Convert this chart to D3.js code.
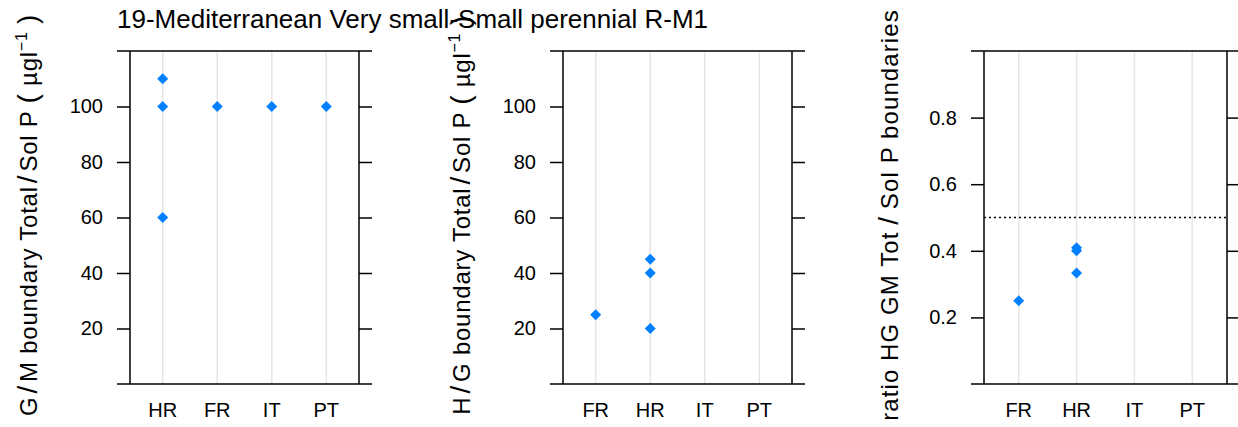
<!DOCTYPE html>
<html>
<head>
<meta charset="utf-8">
<script src="https://cdn.jsdelivr.net/npm/d3@7"></script>
<style>
  html, body { margin: 0; padding: 0; background: #fff; }
  svg { display: block; font-family: "Liberation Sans", Arial, sans-serif; }
</style>
</head>
<body>
<svg id="chart" width="1238" height="427"></svg>
<script>
// ---- data ----
const title = "19-Mediterranean Very small-Small perennial R-M1";

const gmCategories = ["HR", "FR", "IT", "PT"];
const gmCountry = ["HR", "HR", "HR", "FR", "IT", "PT"];
const gmValue = [110, 100, 60, 100, 100, 100];

const hgCategories = ["FR", "HR", "IT", "PT"];
const hgCountry = ["FR", "HR", "HR", "HR"];
const hgValue = [25, 45, 40, 20];

const ratioCategories = ["FR", "HR", "IT", "PT"];
const ratioCountry = ["FR", "HR", "HR", "HR"];
const ratioValue = [0.25, 0.409, 0.40, 0.333];
const ratioReference = 0.5;

const concTicks = [20, 40, 60, 80, 100];
const ratioTicks = [0.2, 0.4, 0.6, 0.8];
const concDomain = [0, 120];
const ratioDomain = [0, 1];

// ---- layout ----
const svg = d3.select("#chart");
const panelTop = 51, panelBottom = 384, tickLen = 13;
const pointColor = "#0080ff";

svg.append("text")
  .attr("x", 117).attr("y", 28)
  .attr("font-size", 26).attr("fill", "#000")
  .text(title);

function diamond(r) {
  return `M0,${-r}L${r},0L0,${r}L${-r},0Z`;
}

function panel(opts) {
  const {x0, x1, cats, countries, values, domain, ticks, fmt, labelParts, labelX, labelSpacing, ref} = opts;
  const g = svg.append("g");
  const x = d3.scalePoint().domain(cats).range([x0, x1]).padding(0.6);
  const y = d3.scaleLinear().domain(domain).range([panelBottom, panelTop]);

  // vertical reference grid lines
  g.selectAll("line.grid").data(cats).join("line")
    .attr("x1", d => x(d)).attr("x2", d => x(d))
    .attr("y1", panelTop).attr("y2", panelBottom)
    .attr("stroke", "#e6e6e6").attr("stroke-width", 1.5);

  if (ref !== undefined) {
    g.append("line")
      .attr("x1", x0).attr("x2", x1)
      .attr("y1", y(ref)).attr("y2", y(ref))
      .attr("stroke", "#000").attr("stroke-width", 1.3)
      .attr("stroke-dasharray", "2,3");
  }

  // box top/bottom
  g.append("line").attr("x1", x0 - tickLen).attr("x2", x1 + tickLen)
    .attr("y1", panelTop).attr("y2", panelTop).attr("stroke", "#000").attr("stroke-width", 1.5);
  g.append("line").attr("x1", x0 - tickLen).attr("x2", x1 + tickLen)
    .attr("y1", panelBottom).attr("y2", panelBottom).attr("stroke", "#000").attr("stroke-width", 1.5);

  const left = g.append("g").attr("transform", `translate(${x0},0)`)
    .call(d3.axisLeft(y).tickValues(ticks).tickSize(tickLen).tickPadding(14).tickFormat(fmt));
  const right = g.append("g").attr("transform", `translate(${x1},0)`)
    .call(d3.axisRight(y).tickValues(ticks).tickSize(tickLen).tickFormat(""));
  [left, right].forEach(a => {
    a.select(".domain").remove();
    a.selectAll(".tick line").attr("stroke", "#000").attr("stroke-width", 1.5);
    a.append("line").attr("x1", 0).attr("x2", 0).attr("y1", panelTop).attr("y2", panelBottom)
      .attr("stroke", "#000").attr("stroke-width", 1.5);
  });
  left.selectAll(".tick text").attr("font-size", 20).attr("fill", "#000")
    .attr("font-family", "Liberation Sans, Arial, sans-serif");

  // x category labels
  g.selectAll("text.cat").data(cats).join("text")
    .attr("x", d => x(d)).attr("y", 417)
    .attr("text-anchor", "middle").attr("font-size", 20).attr("fill", "#000")
    .text(d => d);

  // points
  g.selectAll("path.pt").data(values.map((v, i) => ({c: countries[i], v}))).join("path")
    .attr("d", diamond(5.5))
    .attr("transform", d => `translate(${x(d.c)},${y(d.v)})`)
    .attr("fill", pointColor);

  // y axis label
  const lab = g.append("text")
    .attr("transform", `translate(${labelX},215) rotate(-90)`)
    .attr("text-anchor", "middle").attr("font-size", 24).attr("letter-spacing", labelSpacing)
    .attr("fill", "#000");
  labelParts.forEach(p => {
    const t = lab.append("tspan").text(p.t);
    if (p.size) t.attr("font-size", p.size);
    if (p.dy) t.attr("dy", p.dy);
  });
}

const concLabel = (a, b) => [
  {t: a},
  {t: "\u200a/\u200a", size: 28},
  {t: b + " boundary Total"},
  {t: "\u200a/\u200a", size: 28},
  {t: "Sol P "},
  {t: "(", size: 28},
  {t: " \u00b5gl"},
  {t: "\u22121", size: 16, dy: -10},
  {t: " ", dy: 10},
  {t: ")", size: 28}
];

panel({x0: 130, x1: 359, cats: gmCategories, countries: gmCountry, values: gmValue,
  domain: concDomain, ticks: concTicks, fmt: d3.format("d"),
  labelParts: concLabel("G", "M"), labelX: 37, labelSpacing: 0.75});

panel({x0: 563, x1: 792, cats: hgCategories, countries: hgCountry, values: hgValue,
  domain: concDomain, ticks: concTicks, fmt: d3.format("d"),
  labelParts: concLabel("H", "G"), labelX: 470, labelSpacing: 0.75});

panel({x0: 984, x1: 1227, cats: ratioCategories, countries: ratioCountry, values: ratioValue,
  domain: ratioDomain, ticks: ratioTicks, fmt: d3.format(".1f"),
  labelParts: [{t: "ratio HG GM Tot"}, {t: "\u2009/\u2009", size: 28}, {t: "Sol P boundaries"}],
  labelX: 898, labelSpacing: 1.1, ref: ratioReference});
</script>
</body>
</html>
